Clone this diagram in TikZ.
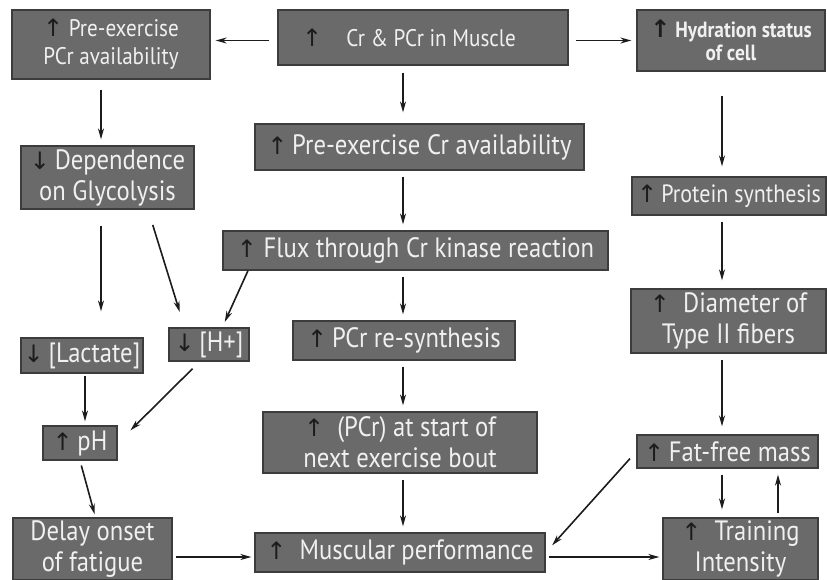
\documentclass[tikz,border=0pt]{standalone}
\usepackage{fontspec}
\setmainfont[FakeStretch=0.88]{PT Sans}
\newfontfamily\arrowfont{DejaVu Sans}
\usetikzlibrary{arrows.meta}
\definecolor{boxgray}{HTML}{6A6A6A}
\definecolor{boxline}{HTML}{3C3C3C}
\definecolor{boxtext}{HTML}{F0F0F0}
\definecolor{arrowcol}{HTML}{1C1C1C}
\newcommand{\upa}{{\arrowfont\color{arrowcol}\fontsize{24}{24}\selectfont ↑}}
\newcommand{\dna}{{\arrowfont\color{arrowcol}\fontsize{24}{24}\selectfont ↓}}
\newcommand{\bigtxt}{\fontsize{28}{31}\selectfont}
\newcommand{\midtxt}{\fontsize{24}{28}\selectfont}
\newcommand{\smalltxt}{\fontsize{22}{23}\selectfont\bfseries}

\begin{document}
\begin{tikzpicture}[x=1pt,y=-1pt,
  box/.style={draw=boxline,line width=1.3pt,fill=boxgray,text=boxtext,align=center,inner sep=2pt,font=\bigtxt},
  arr/.style={draw=arrowcol,line width=1.6pt,-{Stealth[length=11pt,width=6pt]},shorten <=7pt,shorten >=7pt}]
\useasboundingbox (0,0) rectangle (827,580);
\fill[white] (0,0) rectangle (827,580);
\coordinate (midx) at (403,0);
\coordinate (rightx) at (722,0);
\node[box,minimum width=198pt,minimum height=69pt,font=\midtxt] (pcr) at (111,44.5) {\upa\ Pre-exercise\\PCr availability};
\node[box,minimum width=290pt,minimum height=55pt,font=\fontsize{24}{28}\selectfont] (crpcr) at (423,37.5) {\upa\quad Cr \& PCr in Muscle\hspace*{28pt}};
\node[box,minimum width=188pt,minimum height=61pt,font=\smalltxt] (hyd) at (731,40.5) {\upa\ Hydration status\\of cell};
\node[box,minimum width=173pt,minimum height=63pt] (glyc) at (107.5,177.5) {\dna\,Dependence\\on Glycolysis};
\node[box,minimum width=329pt,minimum height=46pt] (crav) at (419.5,147) {\upa\,Pre-exercise Cr availability};
\node[box,minimum width=194pt,minimum height=38pt,font=\fontsize{25}{28}\selectfont] (prot) at (729,196) {\upa\,Protein synthesis};
\node[box,minimum width=385pt,minimum height=39pt] (flux) at (415.5,250.5) {\upa\ Flux through Cr kinase reaction};
\node[box,minimum width=122pt,minimum height=35pt] (lact) at (82,355.5) {\dna\,[Lactate]};
\node[box,minimum width=80pt,minimum height=33pt] (hplus) at (209,344.5) {\dna\,[H+]};
\node[box,minimum width=222pt,minimum height=39pt] (resyn) at (404,340.5) {\upa\,PCr re-synthesis};
\node[box,minimum width=195pt,minimum height=64pt] (diam) at (728.5,321) {\upa\ \ Diameter of\\Type II fibers};
\node[box,minimum width=74pt,minimum height=34pt] (ph) at (80,443) {\upa\,pH};
\node[box,minimum width=274pt,minimum height=61pt] (pcrst) at (400,442.5) {\upa\ \ (PCr) at start of\\next exercise bout};
\node[box,minimum width=181pt,minimum height=33pt] (ffm) at (727.5,451.5) {\upa\,Fat-free mass};
\node[box,minimum width=159pt,minimum height=62pt] (delay) at (92.5,549) {Delay onset\\of fatigue};
\node[box,minimum width=290pt,minimum height=39pt] (musc) at (400,552.5) {\upa\ \ Muscular performance};
\node[box,minimum width=155pt,minimum height=62pt] (train) at (740.5,549) {\upa\ \ Training\\Intensity};
\draw[arr,shorten <=8pt,shorten >=5pt] ([yshift=-3pt]crpcr.west) -- ([yshift=-3pt]crpcr.west -| pcr.east);
\draw[arr,shorten >=5pt] ([yshift=-3pt]crpcr.east) -- ([yshift=-3pt]crpcr.east -| hyd.west);
\draw[arr,shorten >=11pt] (crpcr.south -| midx) -- (crav.north -| midx);
\draw[arr,shorten <=10pt,shorten >=6pt] ([xshift=-10pt]pcr.south) -- ([xshift=-10pt]pcr.south |- glyc.north);
\draw[arr,shorten <=24pt,shorten >=10pt] (hyd.south -| rightx) -- (prot.north -| rightx);
\foreach \a/\b in {crav/flux,flux/resyn,resyn/pcrst,pcrst/musc}
  \draw[arr,shorten <=6pt,shorten >=6pt] (\a.south -| midx) -- (\b.north -| midx);
\foreach \a/\b in {prot/diam,diam/ffm,ffm/train}
  \draw[arr,shorten <=6pt,shorten >=8pt] (\a.south -| rightx) -- (\b.north -| rightx);
\draw[arr,shorten <=4pt,shorten >=6pt] ([xshift=37.5pt]train.north) -- ([xshift=37.5pt]train.north |- ffm.south);
\draw[arr,shorten <=16pt,shorten >=26pt] ([xshift=-6.5pt]glyc.south) -- ([xshift=-6.5pt]glyc.south |- lact.north);
\draw[arr,shorten <=16pt,shorten >=16pt] ([xshift=40.5pt]glyc.south) -- ([xshift=-24.5pt]hplus.north);
\draw[arr,shorten <=0pt,shorten >=6pt] ([xshift=-167.5pt]flux.south) -- ([xshift=13.3pt]hplus.north);
\draw[arr,shorten <=2pt,shorten >=4pt] ([xshift=3pt]lact.south) -- ([xshift=3pt]lact.south |- ph.north);
\draw[arr,shorten <=10pt,shorten >=18pt] ([xshift=-9.4pt]hplus.south) -- (ph.east);
\draw[arr,shorten <=5pt,shorten >=3pt] (ph.south) -- ([xshift=3pt]delay.north);
\draw[arr,shorten <=3pt,shorten >=3pt] ([yshift=-8pt]delay.east) -- ([yshift=-8pt]delay.east -| musc.west);
\draw[arr,shorten <=9.6pt,shorten >=9.6pt] (ffm.west) -- (musc.east);
\draw[arr,shorten <=3pt,shorten >=3pt] ([yshift=-4.5pt]musc.east) -- ([yshift=-4.5pt]musc.east -| train.west);
\end{tikzpicture}
\end{document}
